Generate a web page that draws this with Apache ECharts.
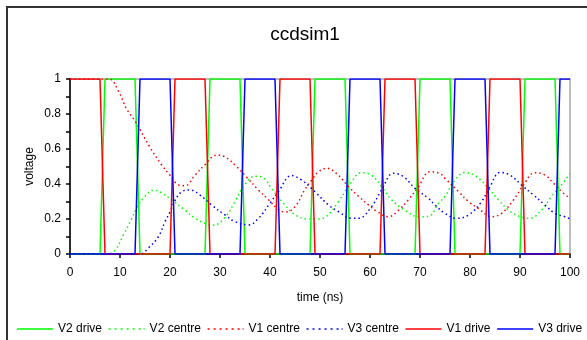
<!DOCTYPE html>
<html>
<head>
<meta charset="utf-8">
<script src="https://cdn.jsdelivr.net/npm/echarts@6/dist/echarts.min.js"></script>
<style>
  html, body { margin: 0; padding: 0; background: #fff; }
  #chart { width: 587px; height: 340px; }
</style>
</head>
<body>
<div id="chart"></div>
<script>
// 数据：时间 (ns) 与电压
const v2DriveT = [0, 6, 7, 13, 14, 27, 28, 34, 35, 48, 49, 55, 56, 69, 70, 76, 77, 90, 91, 97, 98, 100];
const v2DriveV = [0, 0, 1, 1, 0, 0, 1, 1, 0, 0, 1, 1, 0, 0, 1, 1, 0, 0, 1, 1, 0, 0];

const v1DriveT = [0, 6, 7, 20, 21, 27, 28, 41, 42, 48, 49, 62, 63, 69, 70, 83, 84, 90, 91, 100];
const v1DriveV = [1, 1, 0, 0, 1, 1, 0, 0, 1, 1, 0, 0, 1, 1, 0, 0, 1, 1, 0, 0];

const v3DriveT = [0, 13, 14, 20, 21, 34, 35, 41, 42, 55, 56, 62, 63, 76, 77, 83, 84, 97, 98, 100];
const v3DriveV = [0, 0, 1, 1, 0, 0, 1, 1, 0, 0, 1, 1, 0, 0, 1, 1, 0, 0, 1, 1];

const v2CentreT = [0, 7.7, 9, 10.7, 12.3, 13.3, 15, 16.7, 18.3, 20.3, 23, 25, 27, 28.7, 31, 33, 34.7, 37, 38.7, 40.3, 43, 45, 47.5, 49.5, 51.3, 53.7, 55.7, 58.3, 60.3, 62.3, 64.3, 67, 69.7, 71.7, 73.7, 75, 77, 79, 81.3, 83.7, 85.7, 87.7, 90, 92, 94.3, 96.3, 98.3, 100];
const v2CentreV = [0, 0, 0.02, 0.11, 0.2, 0.26, 0.33, 0.365, 0.35, 0.31, 0.25, 0.205, 0.175, 0.165, 0.21, 0.3, 0.385, 0.445, 0.435, 0.375, 0.28, 0.225, 0.2, 0.2, 0.215, 0.3, 0.385, 0.465, 0.45, 0.385, 0.31, 0.25, 0.213, 0.215, 0.29, 0.33, 0.423, 0.466, 0.442, 0.375, 0.309, 0.251, 0.213, 0.204, 0.251, 0.328, 0.394, 0.46];

const v1CentreT = [0, 7.7, 9.7, 11.3, 13.1, 16, 18.3, 20, 21.7, 23, 25, 27, 29.3, 31, 33.3, 35.3, 37.7, 39.7, 41.7, 43, 45, 47, 48.3, 49.7, 51.3, 53.3, 55.7, 57.7, 59.7, 61.3, 63.7, 65.7, 67.7, 69.7, 72, 74, 75, 77.7, 79.7, 81.7, 84.3, 86.3, 88.7, 90.7, 93, 95, 96.7, 98.7, 100];
const v1CentreV = [1, 1, 0.93, 0.83, 0.755, 0.61, 0.51, 0.45, 0.395, 0.39, 0.45, 0.51, 0.565, 0.555, 0.5, 0.44, 0.365, 0.31, 0.255, 0.24, 0.27, 0.37, 0.42, 0.47, 0.49, 0.46, 0.385, 0.33, 0.28, 0.245, 0.213, 0.25, 0.31, 0.385, 0.47, 0.46, 0.432, 0.357, 0.3, 0.26, 0.213, 0.232, 0.309, 0.394, 0.465, 0.451, 0.404, 0.347, 0.32];

const v3CentreT = [0, 14, 15.7, 17.7, 19, 20, 21, 22.3, 24, 26, 28.3, 31, 33, 35.7, 37.7, 40, 41.7, 44.3, 46.3, 48.3, 49.3, 51.7, 53.7, 56.3, 57.7, 60.3, 62.3, 64.7, 66.7, 69, 71.7, 73, 75, 77.3, 79.7, 82.3, 84, 86, 88, 90.3, 92.7, 95, 97, 99, 100];
const v3CentreV = [0, 0, 0.035, 0.1, 0.185, 0.24, 0.305, 0.355, 0.366, 0.337, 0.28, 0.223, 0.185, 0.166, 0.204, 0.29, 0.357, 0.448, 0.423, 0.375, 0.347, 0.28, 0.242, 0.204, 0.204, 0.27, 0.366, 0.461, 0.442, 0.375, 0.318, 0.28, 0.232, 0.204, 0.223, 0.299, 0.385, 0.466, 0.451, 0.394, 0.337, 0.28, 0.232, 0.213, 0.2];

const GREEN = '#00ff00';
const RED = '#ff0000';
const BLUE = '#0000ff';

// 图例图标：实线与点线
const SOLID_ICON = 'path://M0,0H36V1.5H0Z';
let DOTTED_ICON = 'path://';
for (let x = 0; x < 36; x += 6) {
    DOTTED_ICON += 'M' + x + ',0h2v1.5h-2Z';
}
DOTTED_ICON += 'M35,0h1v1.5h-1Z';

function zip(t, v) {
    return t.map((x, i) => [x, v[i]]);
}

function driveSeries(name, t, v, color) {
    return {
        name: name,
        type: 'line',
        data: zip(t, v),
        showSymbol: false,
        symbol: 'none',
        lineStyle: { width: 1.5, color: color },
        itemStyle: { color: color },
        animation: false
    };
}

function centreSeries(name, t, v, color) {
    return {
        name: name,
        type: 'line',
        data: zip(t, v),
        smooth: 0.4,
        showSymbol: false,
        symbol: 'none',
        lineStyle: { width: 1.5, color: color, type: [1.5, 3] },
        itemStyle: { color: color },
        animation: false
    };
}

const chart = echarts.init(document.getElementById('chart'));
const option = {
    animation: false,
    backgroundColor: '#ffffff',
    textStyle: { fontFamily: 'Liberation Sans, Arial, sans-serif' },
    title: {
        text: 'ccdsim1',
        left: 300,
        top: 20,
        textAlign: 'center',
        textStyle: { fontSize: 19, fontWeight: 'normal', color: '#000' }
    },
    graphic: [{
        type: 'rect',
        shape: { x: 7, y: 7, width: 640, height: 400 },
        style: { fill: 'none', stroke: '#333', lineWidth: 2 },
        silent: true
    }],
    legend: {
        top: 318,
        left: 12,
        width: 600,
        itemWidth: 36,
        itemHeight: 1.5,
        itemGap: 6.6,
        textStyle: { fontSize: 12, color: '#000' },
        data: [
            { name: 'V2 drive', icon: SOLID_ICON },
            { name: 'V2 centre', icon: DOTTED_ICON },
            { name: 'V1 centre', icon: DOTTED_ICON },
            { name: 'V3 centre', icon: DOTTED_ICON },
            { name: 'V1 drive', icon: SOLID_ICON },
            { name: 'V3 drive', icon: SOLID_ICON }
        ]
    },
    grid: {
        left: 70,
        right: 17,
        top: 79,
        bottom: 86,
        show: true,
        borderColor: '#a8a8a8',
        borderWidth: 1.5,
        backgroundColor: 'transparent'
    },
    xAxis: {
        type: 'value',
        min: 0,
        max: 100,
        interval: 10,
        name: 'time (ns)',
        nameLocation: 'middle',
        nameGap: 38,
        nameTextStyle: { fontSize: 12, color: '#000' },
        axisLine: { show: true, lineStyle: { color: '#000', width: 1.5 } },
        axisTick: { show: true, inside: false, length: 4, lineStyle: { color: '#000', width: 1.5 } },
        axisLabel: { fontSize: 12, color: '#000', margin: 13 },
        splitLine: { show: false }
    },
    yAxis: {
        type: 'value',
        min: 0,
        max: 1,
        interval: 0.1,
        name: 'voltage',
        nameLocation: 'middle',
        nameGap: 34,
        nameMoveOverlap: false,
        nameTextStyle: { fontSize: 12, color: '#000' },
        axisLine: { show: true, lineStyle: { color: '#000', width: 1.5 } },
        axisTick: { show: true, inside: false, length: 4, lineStyle: { color: '#000', width: 1.5 } },
        axisLabel: {
            fontSize: 12,
            color: '#000',
            margin: 9,
            formatter: function (v) {
                const k = Math.round(v * 10);
                return k % 2 === 0 ? String(k / 10) : '';
            }
        },
        splitLine: { show: false }
    },
    series: [
        driveSeries('V2 drive', v2DriveT, v2DriveV, GREEN),
        centreSeries('V2 centre', v2CentreT, v2CentreV, GREEN),
        centreSeries('V1 centre', v1CentreT, v1CentreV, RED),
        centreSeries('V3 centre', v3CentreT, v3CentreV, BLUE),
        driveSeries('V1 drive', v1DriveT, v1DriveV, RED),
        driveSeries('V3 drive', v3DriveT, v3DriveV, BLUE)
    ]
};
chart.setOption(option);
</script>
</body>
</html>
